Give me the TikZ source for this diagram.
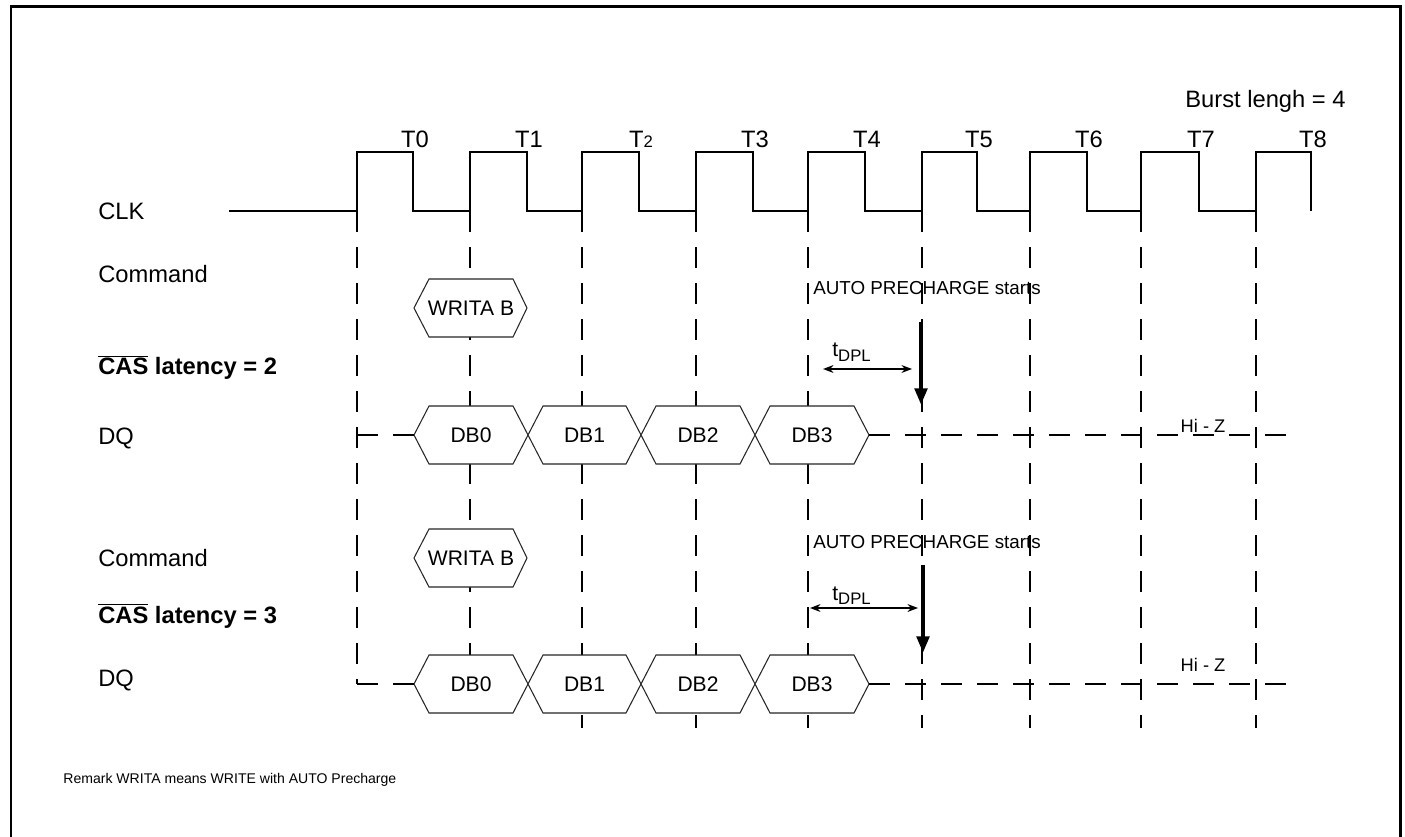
\documentclass[tikz,border=0pt]{standalone}
\usepackage{fontspec}
\setmainfont{Liberation Sans}
\usetikzlibrary{arrows.meta}

\begin{document}
\begin{tikzpicture}[x=0.02cm,y=-0.02cm,
    lbl/.style={anchor=base west,inner sep=0pt,font=\fontsize{13.5}{16}\selectfont},
    lblbold/.style={anchor=base west,inner sep=0pt,font=\fontsize{13.5}{16}\selectfont\bfseries},
    note/.style={anchor=base west,inner sep=0pt,font=\fontsize{10.7}{13}\selectfont},
    hiz/.style={anchor=base,inner sep=0pt,font=\fontsize{10.4}{12}\selectfont},
    cell/.style={draw=black!85,line width=0.6pt,fill=white},
    celltext/.style={inner sep=0pt,font=\fontsize{12}{14}\selectfont},
    clk/.style={line width=1.1pt},
    dashln/.style={line width=1.1pt,dash pattern=on 12pt off 8.5pt},
    dpl/.style={line width=0.7pt,{Stealth[width=4.5pt,length=6pt]}-{Stealth[width=4.5pt,length=6pt]}},
    startarrow/.style={line width=2.8pt,-{Triangle[width=7pt,length=9.5pt]}}]
  \useasboundingbox (0,0) rectangle (1405,837);

  % frame, open at the bottom
  \draw[line width=1.7pt] (11,837) -- (11,7) -- (1400,7) -- (1400,837);

  % signal names
  \node[lbl] (clkname) at (98,220) {CLK};
  \node[lbl] (cmda) at (98,283) {Command};
  \node[lblbold] (casa) at (98,375) {$\overline{\hbox{CAS}}$ latency = 2};
  \node[lbl] (dqa) at (98,444) {DQ};
  \node[lbl] (cmdb) at (98,566) {Command};
  \node[lblbold] (casb) at (98,623) {$\overline{\hbox{CAS}}$ latency = 3};
  \node[lbl] (dqb) at (98,686) {DQ};
  \node[lbl] (burst) at (1185,108) {Burst lengh = 4};

  % clock
  \draw[clk] (229,211) \foreach \r/\f in {357/413,470/527,582/639,696/753,808/865,922/977,1030/1087,1141/1199,1256/1311} { -- (\r,211) -- (\r,152) -- (\f,152) -- (\f,211) };
  \foreach \f/\t [count=\i from 0] in {413/T0,527/T1,639/{T{\fontsize{9.5}{11}\selectfont 2}},753/T3,865/T4,977/T5,1087/T6,1199/T7,1311/T8}
    \node[anchor=base,inner sep=0pt,font=\fontsize{13.5}{16}\selectfont] (tick\i) at (\f+2,148) {\t};

  % dashed edge markers
  \draw[dashln] (357,211) -- (357,684);
  \draw[dashln] (470,211) -- (470,684);
  \foreach \r in {582,696,808,922,1030,1141,1256}
    \draw[dashln] (\r,211) -- (\r,728);

  % commands
  \foreach \y/\n in {308/a,558/b} {
    \filldraw[cell] (414,\y) -- (429,\y-29) -- (513,\y-29) -- (527,\y) -- (513,\y+29) -- (429,\y+29) -- cycle;
    \node[celltext] (writa\n) at (471,\y) {WRITA B};
  }

  % data bursts
  \foreach \y/\n in {435/a,684/b} {
    \foreach \a/\b/\d in {414/528/0,528/641/1,641/755/2,755/869/3} {
      \filldraw[cell] (\a,\y) -- (\a+15,\y-29) -- (\b-15,\y-29) -- (\b,\y) -- (\b-15,\y+29) -- (\a+15,\y+29) -- cycle;
      \node[celltext] (db\n\d) at ({(\a+\b)/2},\y) {DB\d};
    }
  }
  \draw[dashln] (357,435) -- (414,435);
  \draw[dashln] (869,435) -- (1295,435);
  \draw[dashln] (357,684) -- (414,684);
  \draw[dashln] (869,684) -- (1290,684);
  \node[hiz] (hiza) at (1203,432) {Hi - Z};
  \node[hiz] (hizb) at (1203,671) {Hi - Z};

  % auto precharge, latency 2
  \node[note] (apa) at (813,295) {AUTO PRECHARGE starts};
  \coordinate (apatop) at (921,322);
  \coordinate (apatip) at (921,405);
  \draw[startarrow] (apatop) -- (apatip);
  \coordinate (dpla1) at (823,369);
  \coordinate (dpla2) at (912,369);
  \draw[dpl] (dpla1) -- (dpla2);
  \node[anchor=base west,inner sep=0pt] (dpla) at (832,357) {\fontsize{12}{14}\selectfont t\raisebox{-2.8pt}{\fontsize{9.5}{11}\selectfont DPL}};

  % auto precharge, latency 3
  \node[note] (apb) at (813,548) {AUTO PRECHARGE starts};
  \coordinate (apbtop) at (923,565);
  \coordinate (apbtip) at (923,653);
  \draw[startarrow] (apbtop) -- (apbtip);
  \coordinate (dplb1) at (810,608);
  \coordinate (dplb2) at (918,608);
  \draw[dpl] (dplb1) -- (dplb2);
  \node[anchor=base west,inner sep=0pt] (dplb) at (832,600) {\fontsize{12}{14}\selectfont t\raisebox{-2.8pt}{\fontsize{9.5}{11}\selectfont DPL}};

  \node[anchor=base west,inner sep=0pt,font=\fontsize{8}{10}\selectfont] (remark) at (63,783) {Remark WRITA means WRITE with AUTO Precharge};
\end{tikzpicture}
\end{document}
